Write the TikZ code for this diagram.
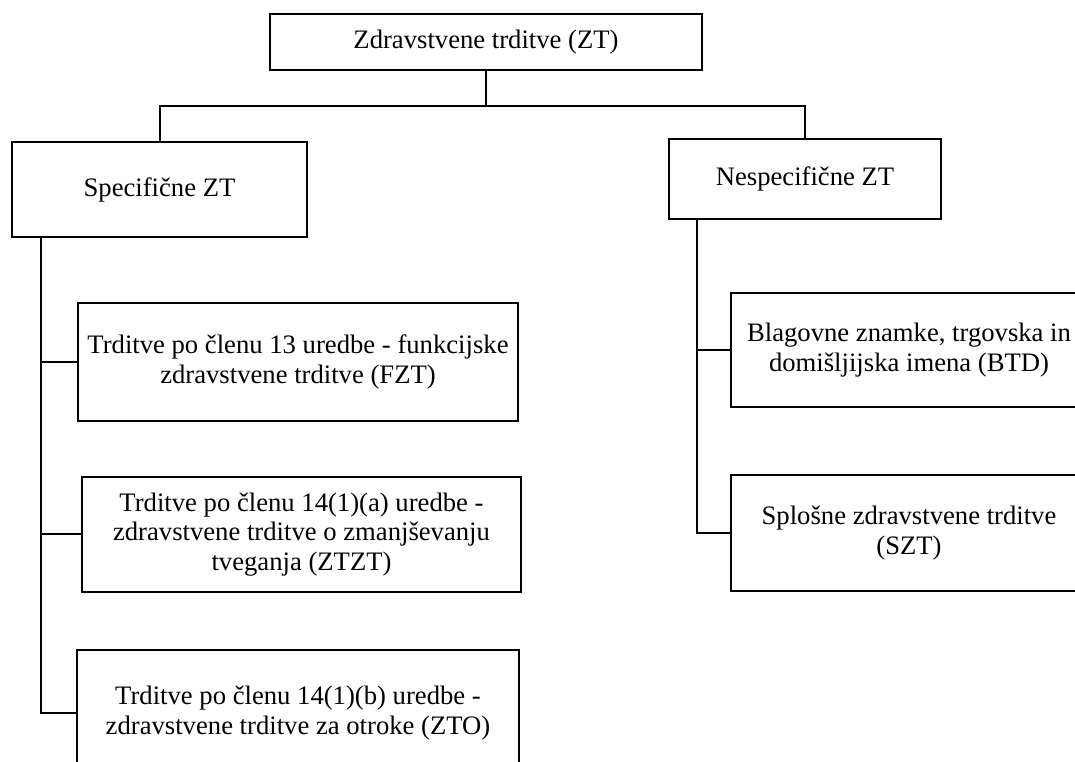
\documentclass[tikz,border=0pt]{standalone}
\usepackage{fontspec}
\setmainfont{Liberation Serif}

\begin{document}
\begin{tikzpicture}[x=0.75pt, y=-0.75pt,
    line width=1.5pt,
    font=\fontsize{20}{22}\selectfont]
  % style of boxes
  \tikzset{ztbox/.style={draw,rectangle,align=center,inner sep=0pt}}
  \useasboundingbox (0,0) rectangle (1075,762);
  \clip (0,0) rectangle (1075,762);
  % top box
  \node[ztbox,minimum width=324pt,minimum height=42pt] (zt) at (486,42)
    {Zdravstvene trditve (ZT)};
  % second level
  \node[ztbox,minimum width=221.25pt,minimum height=71.25pt] (spec) at (159.5,189.5)
    {Specifične ZT};
  \node[ztbox,minimum width=204pt,minimum height=60pt] (nespec) at (805,179)
    {Nespecifične ZT};
  % left column
  \node[ztbox,minimum width=330pt,minimum height=88.5pt] (fzt) at (298,362)
    {Trditve po členu 13 uredbe - funkcijske\\ zdravstvene trditve (FZT)};
  \node[ztbox,minimum width=329.25pt,minimum height=86.25pt] (ztzt) at (301.5,534.5)
    {Trditve po členu 14(1)(a) uredbe -\\ zdravstvene trditve o zmanjševanju\\ tveganja (ZTZT)};
  \node[ztbox,minimum width=331.5pt,minimum height=94.5pt] (zto) at (298,713)
    {Trditve po členu 14(1)(b) uredbe -\\ zdravstvene trditve za otroke (ZTO)};
  % right column
  \node[ztbox,minimum width=267pt,minimum height=85pt] (btd) at (909,350)
    {Blagovne znamke, trgovska in\\ domišljijska imena (BTD)};
  \node[ztbox,minimum width=267pt,minimum height=87pt] (szt) at (909,533)
    {Splošne zdravstvene trditve\\ (SZT)};
  % connectors
  \draw (zt.south) -- ++(0,35) coordinate (fork);
  \draw (spec.north) |- (fork) -| (nespec.north);
  \coordinate (ltop) at (41,237);
  \coordinate (rtop) at (697,219);
  \draw (ltop) |- (zto.west);
  \draw (ltop |- fzt.west) -- (fzt.west);
  \draw (ltop |- ztzt.west) -- (ztzt.west);
  \draw (rtop) |- (szt.west);
  \draw (rtop |- btd.west) -- (btd.west);
\end{tikzpicture}
\end{document}
